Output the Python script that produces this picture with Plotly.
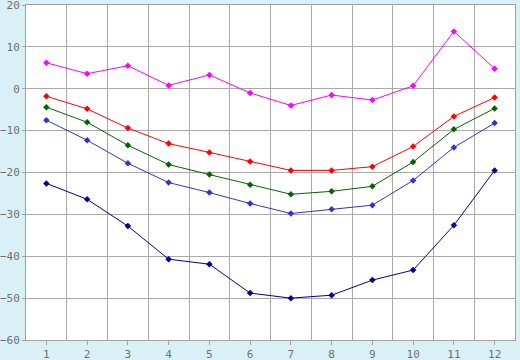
import plotly.graph_objects as go

months = list(range(1, 13))
magenta_vals = [6.2, 3.6, 5.5, 0.8, 3.3, -1.0, -4.0, -1.5, -2.7, 0.7, 13.7, 4.8]
red_vals = [-1.8, -4.8, -9.4, -13.1, -15.2, -17.4, -19.5, -19.5, -18.6, -13.8, -6.6, -2.1]
green_vals = [-4.4, -8.0, -13.5, -18.1, -20.5, -22.9, -25.2, -24.5, -23.3, -17.5, -9.7, -4.7]
blue_vals = [-7.5, -12.3, -17.8, -22.4, -24.8, -27.4, -29.8, -28.8, -27.8, -21.9, -14.0, -8.2]
navy_vals = [-22.6, -26.4, -32.8, -40.7, -41.9, -48.8, -50.0, -49.3, -45.7, -43.3, -32.6, -19.5]
y_ticks = [-60, -50, -40, -30, -20, -10, 0, 10, 20]

series = [
    (navy_vals, "#000099"),
    (blue_vals, "#3333CC"),
    (green_vals, "#006600"),
    (red_vals, "#FF0000"),
    (magenta_vals, "#FF00FF"),
]

fig = go.Figure()
for vals, col in series:
    fig.add_trace(go.Scatter(
        x=months, y=vals, mode="lines+markers",
        line=dict(color=col, width=1),
        marker=dict(symbol="diamond", size=5, color=col),
        showlegend=False, hoverinfo="skip", cliponaxis=False,
    ))

fig.update_layout(
    width=520, height=360,
    margin=dict(l=26, r=5, t=5, b=20),
    paper_bgcolor="#DAF0F7",
    plot_bgcolor="#FFFFFF",
    font=dict(family="DejaVu Sans Mono", size=11, color="#707070"),
)
fig.update_xaxes(
    range=[0.5, 12.5], tickvals=months, ticktext=[str(m) for m in months],
    showgrid=False, zeroline=False, automargin=False,
    ticks="outside", ticklen=4, tickcolor="#A0A0A0",
    showline=True, linecolor="#A0A0A0", mirror=True,
    minor=dict(tick0=0.5, dtick=1, showgrid=True, gridcolor="#A9A9A9", gridwidth=1, ticks=""),
)
fig.update_yaxes(
    range=[-60, 20], tickvals=y_ticks, ticktext=[str(v).replace("-", "−") for v in y_ticks],
    showgrid=True, gridcolor="#A9A9A9", gridwidth=1, zeroline=False, automargin=False,
    ticks="outside", ticklen=3, tickcolor="#A0A0A0", ticklabeloverflow="allow",
    showline=True, linecolor="#A0A0A0", mirror=True,
)

fig.write_html(
    "out.html",
    config={"displayModeBar": False},
    post_script="document.body.style.margin='0';document.body.style.overflow='hidden';",
)
